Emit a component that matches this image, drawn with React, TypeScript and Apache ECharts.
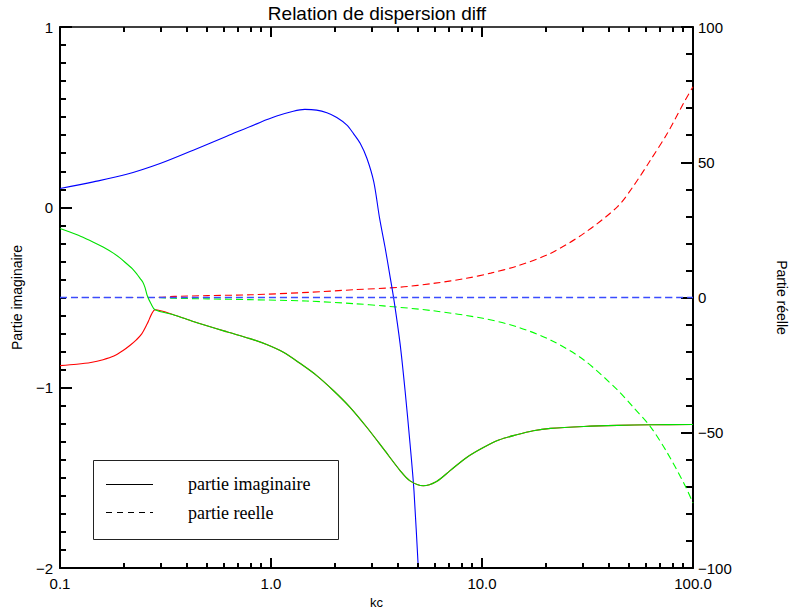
import React, { useEffect, useRef } from "react";
import * as echarts from "echarts";

// ---- Data (kc values and curve values) ----
// Imaginary part (left axis)
const blueImX = [0.1, 0.144, 0.207, 0.298, 0.428, 0.617, 0.887, 1.064, 1.275, 1.446, 1.645, 1.84, 2.05, 2.29, 2.46, 2.65, 2.85, 3.07, 3.27, 3.47, 3.65, 3.83, 4.09, 4.32, 4.56, 4.76, 4.99, 5.05];
const blueImY = [0.104, 0.141, 0.183, 0.243, 0.317, 0.394, 0.471, 0.506, 0.533, 0.543, 0.539, 0.524, 0.498, 0.456, 0.409, 0.354, 0.271, 0.141, -0.06, -0.22, -0.37, -0.517, -0.756, -1.017, -1.311, -1.572, -2.0, -2.1];

const greenImHeadX = [0.1, 0.108, 0.125, 0.144, 0.16, 0.179, 0.193, 0.207, 0.22, 0.231, 0.24, 0.247, 0.253, 0.259, 0.27];
const greenImHeadY = [-0.117, -0.131, -0.16, -0.193, -0.22, -0.254, -0.282, -0.313, -0.34, -0.369, -0.395, -0.415, -0.445, -0.489, -0.535];

const redImHeadX = [0.1, 0.12, 0.14, 0.16, 0.18, 0.199, 0.215, 0.23, 0.244, 0.259, 0.265, 0.272];
const redImHeadY = [-0.878, -0.87, -0.86, -0.845, -0.825, -0.794, -0.765, -0.735, -0.702, -0.646, -0.62, -0.591];

const sharedImTailX = [0.282, 0.35, 0.428, 0.617, 0.795, 0.954, 1.145, 1.372, 1.647, 1.98, 2.37, 2.85, 3.42, 4.1, 4.56, 5.27, 6.09, 7.06, 8.46, 10.15, 12.1, 14.6, 17.5, 21.1, 30.4, 43.9, 62.9, 100];
const sharedImTailY = [-0.568, -0.598, -0.633, -0.69, -0.728, -0.761, -0.804, -0.865, -0.933, -1.017, -1.109, -1.221, -1.341, -1.461, -1.517, -1.544, -1.52, -1.46, -1.387, -1.332, -1.289, -1.261, -1.239, -1.226, -1.215, -1.209, -1.206, -1.204];

// Real part (right axis)
const blueReX = [0.1, 100];
const blueReY = [0, 0];
const redReX = [0.1, 0.282, 0.35, 0.5, 0.8, 1.5, 2.5, 4.08, 6, 8.44, 11, 14.6, 21.1, 30.4, 43.9, 52, 62.9, 75.6, 91, 100];
const redReY = [0, 0, 0.4, 0.7, 1.0, 1.9, 2.9, 3.8, 5.3, 7.1, 9.0, 11.6, 16.3, 23.7, 33.6, 41, 50.8, 60.7, 72.4, 77.9];
const greenReX = [0.1, 0.282, 0.35, 0.5, 0.79, 1.47, 2.5, 3.41, 5.87, 10.1, 14.6, 21.1, 30.4, 43.9, 52, 62.9, 75, 91, 100];
const greenReY = [0, 0, -0.3, -0.5, -0.8, -1.3, -2.3, -3.1, -4.9, -7.7, -10.8, -15.7, -23.1, -34.2, -40.5, -47.8, -57, -69, -76];

// Log-axis minor tick values
const xMinorTicks = [0.2, 0.3, 0.4, 0.5, 0.6, 0.7, 0.8, 0.9, 2, 3, 4, 5, 6, 7, 8, 9, 20, 30, 40, 50, 60, 70, 80, 90];

const zip = (xs: number[], ys: number[]) => xs.map((x, i) => [x, ys[i]]);

const minus = (v: number) => String(v).replace("-", "\u2212");

export default function App() {
  const ref = useRef<HTMLDivElement>(null);

  useEffect(() => {
    if (!ref.current) return;
    const chart = echarts.init(ref.current, null, { renderer: "svg" });
    const sans = "Liberation Sans";
    const solid = (name: string, color: string, data: number[][], z: number) => ({
      name,
      type: "line",
      xAxisIndex: 0,
      yAxisIndex: 0,
      data,
      showSymbol: false,
      symbol: "none",
      smooth: 0.3,
      z,
      lineStyle: { color, width: 1.1 },
    });
    const dashed = (name: string, color: string, data: number[][], z: number, width: number) => ({
      name,
      type: "line",
      xAxisIndex: 0,
      yAxisIndex: 1,
      data,
      showSymbol: false,
      symbol: "none",
      smooth: 0.3,
      z,
      lineStyle: { color, width, type: [7, 4] },
    });

    chart.setOption({
      animation: false,
      backgroundColor: "#fff",
      grid: { left: 60, right: 103, top: 27, bottom: 41, containLabel: false, outerBoundsMode: "none" },
      xAxis: [
        {
          type: "log",
          logBase: 10,
          min: 0.1,
          max: 100,
          position: "bottom",
          axisLine: { show: true, onZero: false, lineStyle: { color: "#000", width: 2 } },
          splitLine: { show: false },
          axisTick: { show: true, inside: true, length: 10, lineStyle: { color: "#000", width: 2 } },
          axisLabel: {
            show: true,
            color: "#000",
            fontFamily: sans,
            fontSize: 15,
            margin: 8,
            formatter: (v: number) => Number(v).toFixed(1),
            showMinLabel: true,
            showMaxLabel: true,
          },
          name: "kc",
          nameLocation: "middle",
          nameGap: 25,
          nameTextStyle: { color: "#000", fontFamily: sans, fontSize: 13 },
        },
        {
          type: "log",
          logBase: 10,
          min: 0.1,
          max: 100,
          position: "top",
          axisLine: { show: true, onZero: false, lineStyle: { color: "#000", width: 1.5 } },
          splitLine: { show: false },
          axisTick: { show: true, inside: true, length: 10, lineStyle: { color: "#000", width: 2 } },
          axisLabel: { show: false },
        },
      ],
      yAxis: [
        {
          type: "value",
          min: -2,
          max: 1,
          interval: 1,
          position: "left",
          axisLine: { show: true, onZero: false, lineStyle: { color: "#000", width: 2 } },
          splitLine: { show: false },
          axisTick: { show: true, inside: true, length: 12, lineStyle: { color: "#000", width: 2 } },
          minorTick: { show: true, splitNumber: 10, length: 6, lineStyle: { color: "#000", width: 2 } },
          minorSplitLine: { show: false },
          axisLabel: {
            color: "#000",
            fontFamily: sans,
            fontSize: 15,
            margin: 7,
            formatter: (v: number) => minus(v),
            showMinLabel: true,
            showMaxLabel: true,
          },
          name: "Partie imaginaire",
          nameLocation: "middle",
          nameGap: 36,
          nameRotate: 90,
          nameTextStyle: { color: "#000", fontFamily: sans, fontSize: 14 },
        },
        {
          type: "value",
          min: -100,
          max: 100,
          interval: 50,
          position: "right",
          axisLine: { show: true, onZero: false, lineStyle: { color: "#000", width: 2 } },
          splitLine: { show: false },
          axisTick: { show: true, inside: true, length: 12, lineStyle: { color: "#000", width: 2 } },
          minorTick: { show: true, splitNumber: 5, length: 7, lineStyle: { color: "#000", width: 2 } },
          minorSplitLine: { show: false },
          axisLabel: {
            color: "#000",
            fontFamily: sans,
            fontSize: 15,
            margin: 5,
            formatter: (v: number) => minus(v),
            showMinLabel: true,
            showMaxLabel: true,
          },
          name: "Partie r\u00e9elle",
          nameLocation: "middle",
          nameGap: 82,
          nameRotate: -90,
          nameTextStyle: { color: "#000", fontFamily: sans, fontSize: 14 },
        },
      ],
      graphic: [
        {
          type: "text",
          x: 377,
          y: 13,
          style: {
            text: "Relation de dispersion diff",
            fill: "#000",
            font: `19px "${sans}"`,
            textAlign: "center",
            textVerticalAlign: "middle",
          },
        },
        {
          type: "group",
          z: 100,
          children: [
            {
              type: "rect",
              shape: { x: 93.5, y: 460.5, width: 245, height: 79 },
              style: { fill: "#fff", stroke: "#222", lineWidth: 1 },
            },
            {
              type: "line",
              shape: { x1: 106, y1: 484.5, x2: 153, y2: 484.5 },
              style: { stroke: "#000", lineWidth: 1.2 },
            },
            {
              type: "line",
              shape: { x1: 106, y1: 512.5, x2: 153, y2: 512.5 },
              style: { stroke: "#000", lineWidth: 1.2, lineDash: [6, 5] },
            },
            {
              type: "text",
              x: 188,
              y: 484,
              style: {
                text: "partie imaginaire",
                fill: "#000",
                font: '18px "Liberation Serif"',
                textVerticalAlign: "middle",
              },
            },
            {
              type: "text",
              x: 188,
              y: 513,
              style: {
                text: "partie reelle",
                fill: "#000",
                font: '18px "Liberation Serif"',
                textVerticalAlign: "middle",
              },
            },
          ],
        },
      ],
      series: [
        solid("blueIm", "#0000ff", zip(blueImX, blueImY), 3),
        solid("redIm", "#ff0000", zip(redImHeadX, redImHeadY).concat(zip(sharedImTailX, sharedImTailY)), 4),
        solid("greenIm", "#00e000", zip(greenImHeadX, greenImHeadY).concat(zip(sharedImTailX, sharedImTailY)), 5),
        dashed("greenRe", "#00ff00", zip(greenReX, greenReY), 2, 1.1),
        dashed("redRe", "#ff0000", zip(redReX, redReY), 2, 1.1),
        dashed("blueRe", "#3a4cff", zip(blueReX, blueReY), 3, 1.5),
        {
          name: "xMinorTicks",
          type: "custom",
          xAxisIndex: 0,
          yAxisIndex: 0,
          clip: false,
          z: 10,
          data: xMinorTicks.map((x) => [x, -2]),
          renderItem: (params: any, api: any) => {
            const pt = api.coord([api.value(0), api.value(1)]);
            const cs = params.coordSys;
            const bottom = cs.y + cs.height;
            const top = cs.y;
            const px = Math.round(pt[0]);
            return {
              type: "group",
              children: [
                { type: "line", shape: { x1: px, y1: bottom, x2: px, y2: bottom - 5 }, style: { stroke: "#000", lineWidth: 2 } },
                { type: "line", shape: { x1: px, y1: top, x2: px, y2: top + 5 }, style: { stroke: "#000", lineWidth: 2 } },
              ],
            };
          },
        },
      ],
    });

    return () => chart.dispose();
  }, []);

  return (
    <div
      ref={ref}
      style={{ position: "fixed", left: 0, top: 0, width: 796, height: 609, background: "#fff" }}
    />
  );
}
